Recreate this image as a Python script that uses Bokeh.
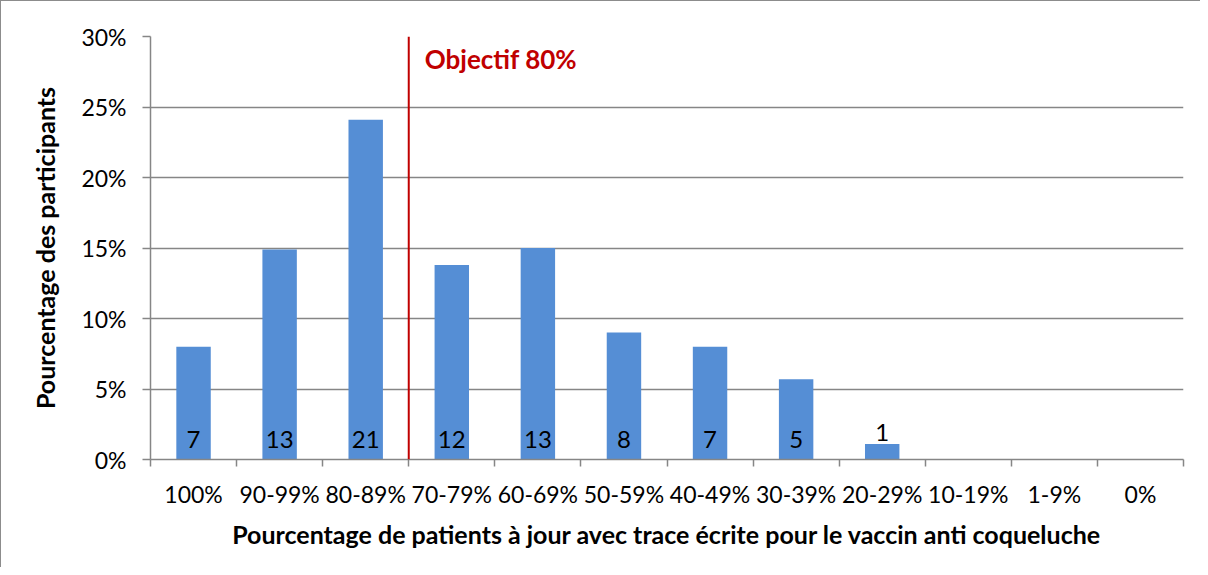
from bokeh.plotting import figure
from bokeh.models import FixedTicker, Span, Label, ColumnDataSource
from bokeh.embed import file_html
from bokeh.resources import INLINE
from bokeh.core.properties import value

categories = ["100%", "90-99%", "80-89%", "70-79%", "60-69%", "50-59%",
              "40-49%", "30-39%", "20-29%", "10-19%", "1-9%", "0%"]
percent_values = [8.0, 14.9, 24.1, 13.8, 15.0, 9.0, 8.0, 5.7, 1.1, 0, 0, 0]
counts = [7, 13, 21, 12, 13, 8, 7, 5, 1, None, None, None]
y_ticks = [0, 5, 10, 15, 20, 25, 30]
y_tick_labels = ["0%", "5%", "10%", "15%", "20%", "25%", "30%"]
objective_boundary = 3  # boundary between 80-89% and 70-79%

FONT = "Lato"
GRID = "#868686"

n = len(categories)
centers = [i + 0.5 for i in range(n)]

p = figure(width=1200, height=567, x_range=(0, n), y_range=(0, 30),
           output_backend="svg", toolbar_location=None,
           min_border_left=149, min_border_right=18, min_border_top=35, min_border_bottom=109)
p.styles = {"border-left": "1px solid #8c8c8c", "border-top": "1px solid #8c8c8c",
            "box-sizing": "border-box"}
p.outline_line_color = None
p.background_fill_color = "white"
p.border_fill_color = "white"

src = ColumnDataSource(dict(x=centers, top=percent_values))
p.vbar(x="x", top="top", width=0.4, source=src, fill_color="#558ed5", line_color=None)

# labels
in_x, in_y, in_t = [], [], []
out_x, out_y, out_t = [], [], []
for c, v, cnt in zip(centers, percent_values, counts):
    if cnt is None:
        continue
    if v >= 3:
        in_x.append(c); in_y.append(0); in_t.append(str(cnt))
    else:
        out_x.append(c); out_y.append(v); out_t.append(str(cnt))
p.text(x=in_x, y=in_y, text=in_t, text_align="center", text_baseline="bottom",
       y_offset=-12, text_font=value(FONT), text_font_size="24px", text_color="black")
p.text(x=out_x, y=out_y, text=out_t, text_align="center", text_baseline="bottom",
       y_offset=-3, text_font=value(FONT), text_font_size="24px", text_color="black")

# objective line
p.add_layout(Span(location=objective_boundary, dimension="height", line_color="#c00000", line_width=2))
p.add_layout(Label(x=objective_boundary, y=30, x_offset=16, y_offset=-22, text="Objectif 80%",
                   text_font=FONT, text_font_style="bold", text_font_size="26px",
                   text_color="#c00000", text_baseline="middle"))

# axes
p.xgrid.grid_line_color = None
p.ygrid.grid_line_color = GRID
p.ygrid.grid_line_width = 1.5
p.ygrid.ticker = FixedTicker(ticks=y_ticks)

p.xaxis.ticker = FixedTicker(ticks=centers, minor_ticks=list(range(n + 1)))
p.xaxis.major_label_overrides = {c: lab for c, lab in zip(centers, categories)}
p.xaxis.major_tick_out = 0
p.xaxis.major_tick_in = 0
p.xaxis.minor_tick_out = 7
p.xaxis.minor_tick_in = 0
p.xaxis.minor_tick_line_color = GRID
p.xaxis.minor_tick_line_width = 1.5
p.xaxis.axis_line_color = GRID
p.xaxis.axis_line_width = 1.5
p.xaxis.major_label_standoff = 13
p.xaxis.axis_label = "Pourcentage de patients à jour avec trace écrite pour le vaccin anti coqueluche"
p.xaxis.axis_label_standoff = 8

p.yaxis.ticker = FixedTicker(ticks=y_ticks, minor_ticks=[])
p.yaxis.major_label_overrides = {t: lab for t, lab in zip(y_ticks, y_tick_labels)}
p.yaxis.major_tick_out = 8
p.yaxis.major_tick_in = 0
p.yaxis.major_tick_line_color = GRID
p.yaxis.major_tick_line_width = 1.5
p.yaxis.axis_line_color = GRID
p.yaxis.axis_line_width = 1.5
p.yaxis.major_label_standoff = 16
p.yaxis.axis_label = "Pourcentage des participants"
p.yaxis.axis_label_standoff = 18

for ax in (p.xaxis, p.yaxis):
    ax.major_label_text_font = FONT
    ax.major_label_text_font_size = "23px"
    ax.major_label_text_color = "black"
    ax.axis_label_text_font = FONT
    ax.axis_label_text_font_size = "25px"
    ax.axis_label_text_font_style = "bold"
    ax.axis_label_text_color = "black"

open("out.html", "w").write(file_html(p, INLINE))
